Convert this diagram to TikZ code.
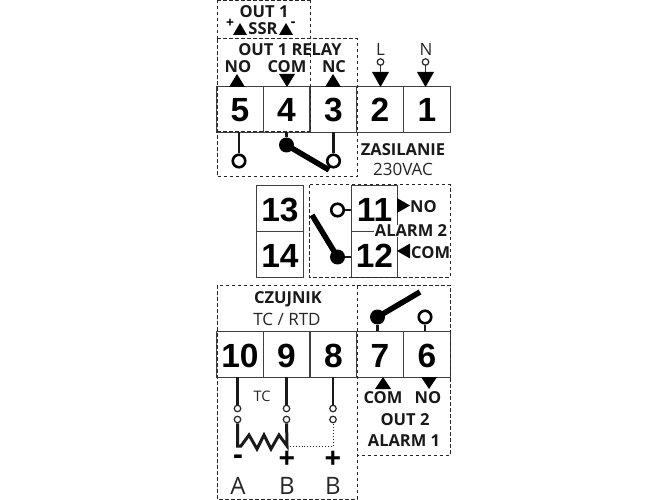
\documentclass[tikz,border=0pt]{standalone}
\usepackage{fontspec}
\setmainfont{Open Sans}
\newfontfamily\numfont{Liberation Sans}
\begin{document}
\begin{tikzpicture}[x=1pt,y=-1pt,
  termbox/.style={draw=black!75,line width=0.9pt,minimum width=46.6pt,minimum height=46pt,inner sep=0pt,anchor=center,text height=26pt,text depth=0pt,font=\numfont\bfseries\fontsize{33.5}{33.5}\selectfont},
  zone/.style={draw=black!85,line width=1pt,dash pattern=on 3.5pt off 2.5pt},
  lab/.style={inner sep=0pt,yshift=-1pt,font=\bfseries\fontsize{16.5}{16.5}\selectfont,text=black!90},
  plain/.style={inner sep=0pt,font=\fontsize{17}{17}\selectfont,text=black!85},
  small/.style={inner sep=0pt,font=\fontsize{14.5}{14.5}\selectfont,text=black!85},
  tiny sign/.style={inner sep=0pt,font=\bfseries\fontsize{14}{14}\selectfont},
  sign/.style={inner sep=0pt,font=\bfseries\fontsize{29}{29}\selectfont},
  ltr/.style={inner sep=0pt,font=\fontsize{24}{24}\selectfont,text=black!85},
  wire/.style={line width=2.8pt,black!90},
  arm/.style={line width=5.5pt,black},
  thin/.style={line width=1.2pt,black!80},
  opn/.style={circle,draw=black,line width=2.6pt,fill=white,minimum size=12.5pt,inner sep=0pt},
  pin/.style={circle,draw=black!85,line width=1.2pt,fill=white,minimum size=6.5pt,inner sep=0pt},
  solid dot/.style={circle,fill=black,minimum size=15pt,inner sep=0pt},
  tri/.style={fill=black,draw=none}]
\useasboundingbox (0,0) rectangle (667,500);
\fill[white] (0,0) rectangle (667,500);

% terminals
\node[termbox] (t5) at (240,109) {5};
\node[termbox] (t4) at (286.5,109) {4};
\node[termbox] (t3) at (333.5,109) {3};
\node[termbox] (t2) at (380,109) {2};
\node[termbox] (t1) at (427,109) {1};
\node[termbox] (t13) at (280,208.5) {13};
\node[termbox] (t14) at (280,254.5) {14};
\node[termbox] (t11) at (374.5,208.5) {11};
\node[termbox] (t12) at (374.5,254.5) {12};
\node[termbox] (t10) at (240,354) {10};
\node[termbox] (t9) at (286.5,354) {9};
\node[termbox] (t8) at (333.5,354) {8};
\node[termbox] (t7) at (380,354) {7};
\node[termbox] (t6) at (427,354) {6};

% dashed zones
\draw[zone] (217,0) -- (217,39) (310,0) -- (310,132);
\draw[zone] (217,1) -- (310,1);
\draw[zone] (217,39) -- (357,39) -- (357,177) -- (217,177) -- cycle;
\draw[zone] (217,132) -- (310,132);
\draw[zone] (309,185) rectangle (450,277);
\draw[zone] (217,285) rectangle (357,499);
\draw[zone] (357,285) -- (450,285) -- (450,455) -- (357,455) -- cycle;

% texts top
\node[lab] (o1) at (264,11) {OUT 1};
\node[lab] (ssr) at (263,28) {SSR};
\node[tiny sign] at (230,23) {+};
\node[tiny sign] at (293,24) {-};
\node[lab] (rel) at (290,49) {OUT 1 RELAY};
\node[lab] (no5) at (238,66) {NO};
\node[lab] (com4) at (287,66) {COM};
\node[lab] (nc3) at (334,66) {NC};
\node[plain] (lL) at (380.5,49) {L};
\node[plain] (lN) at (426,49) {N};
\node[lab] (zas) at (403,149) {ZASILANIE};
\node[plain] (v230) at (403,169) {230VAC};

% triangles top
\fill[tri] (233,35) -- (247,35) -- (240,23) -- cycle;
\fill[tri] (279,35) -- (293,35) -- (286,23) -- cycle;
\fill[tri] (229,87) -- (245,87) -- (237,74) -- cycle;
\fill[tri] (279,74) -- (295,74) -- (287,87) -- cycle;
\fill[tri] (325,87) -- (341,87) -- (333,74) -- cycle;
\fill[tri] (372,72) -- (389,72) -- (380.5,87) -- cycle;
\fill[tri] (417,72) -- (434,72) -- (425.5,87) -- cycle;

% L N pins
\node[pin] (pL) at (380.5,62) {};
\node[pin] (pN) at (425.5,62) {};
\draw[thin] (pL) -- (380.5,72);
\draw[thin] (pN) -- (425.5,72);

% relay 1
\node[opn] (c5) at (239,161) {};
\node[opn] (c3) at (333.5,161) {};
\node[solid dot] (c4) at (286.5,145) {};
\draw[wire] (t5.south -| c5) -- (c5);
\draw[wire] (t3.south -| c3) -- (c3);
\draw[wire] (t4.south) -- (c4);
\draw[arm] (c4.center) -- (329,170);

% alarm 2 relay
\node[opn] (c11) at (337.5,210) {};
\node[solid dot] (c12) at (337.5,257) {};
\draw[wire] (c11) -- (t11.west |- c11);
\draw[wire] (c12) -- (t12.west |- c12);
\draw[arm] (c12.center) -- (312,215);
\fill[tri] (397,198) -- (397,213) -- (410,205.5) -- cycle;
\fill[tri] (397,251) -- (410,243.5) -- (410,258.5) -- cycle;
\node[lab,anchor=west] (no11) at (410,206) {NO};
\node[lab,fill=white,inner xsep=1pt] (al2) at (411,230) {ALARM 2};
\node[lab,anchor=west] (com12) at (411,252) {COM};

% czujnik
\node[lab] (cz) at (288,298) {CZUJNIK};
\node[plain] (tc) at (287,319) {TC / RTD};

% out2 relay
\node[solid dot] (c7) at (377.5,317) {};
\node[opn] (c6) at (425,317) {};
\draw[wire] (t7.north -| c7) -- (c7);
\draw[wire] (t6.north -| c6) -- (c6);
\draw[arm] (c7.center) -- (420,292);
\fill[tri] (375,389) -- (391,389) -- (383,377) -- cycle;
\fill[tri] (421,377) -- (437,377) -- (429,389) -- cycle;
\node[lab] (com7) at (383,397) {COM};
\node[lab] (no6) at (428,397) {NO};
\node[lab] (ou2) at (405,419) {OUT 2};
\node[lab] (al1) at (404,440) {ALARM 1};

% sensor
\node[small] (tcs) at (262,396) {TC};
\node[pin] (p1) at (237.5,408.5) {};
\node[pin] (p2) at (286.5,408.5) {};
\node[pin] (p3) at (333,408.5) {};
\node[pin] (q1) at (237.5,419.5) {};
\node[pin] (q2) at (286.5,419.5) {};
\node[pin] (q3) at (333,419.5) {};
\draw[wire] (t10.south -| p1) -- (p1);
\draw[wire] (t9.south -| p2) -- (p2);
\draw[wire] (t8.south -| p3) -- (p3);
\draw[wire,line width=3pt,line join=miter] (q1) -- (237.5,446) -- (241,446) -- (249,435) -- (257,449) -- (264,435) -- (271,449) -- (279,435) -- (287,446) -- (q2);
\draw[line width=0.9pt,dotted,black!85] (287,446) -- (333,446) -- (q3);
\node[sign] (m) at (238,460) {-};
\node[sign] (pa) at (287,460) {+};
\node[sign] (pb) at (333,460) {+};
\node[ltr] (a) at (238,486) {A};
\node[ltr] (b1) at (287,486) {B};
\node[ltr] (b2) at (333,486) {B};
\end{tikzpicture}
\end{document}
